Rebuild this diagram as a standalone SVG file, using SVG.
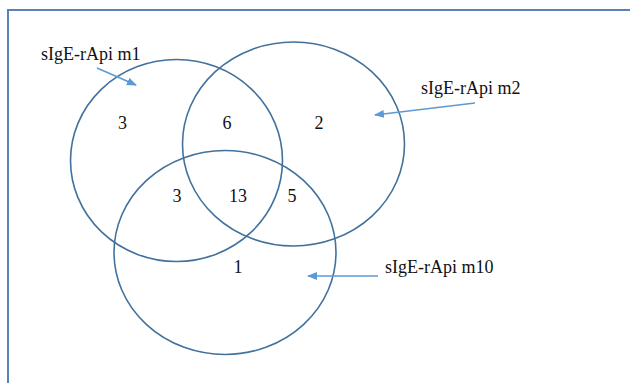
<svg xmlns="http://www.w3.org/2000/svg" width="630" height="383" viewBox="0 0 630 383">
<defs>
<style>
.frame{fill:none;stroke:#5a82b4;stroke-width:2}
.set{fill:none;stroke:#41719c;stroke-width:1.6}
.conn{stroke:#5b9bd5;stroke-width:1.6;fill:none}
.lbl{font-family:"Liberation Serif","Times New Roman",serif;font-size:18px;fill:#111}
.num{font-family:"Liberation Serif","Times New Roman",serif;font-size:18px;fill:#111;text-anchor:middle}
</style>
<marker id="ah" markerWidth="10" markerHeight="8" refX="9" refY="4" orient="auto" markerUnits="userSpaceOnUse">
<path d="M0,0 L10,4 L0,8 Z" fill="#5b9bd5"/>
</marker>
</defs>
<rect width="630" height="383" fill="#fff"/>
<rect class="frame" x="8" y="10" width="640" height="400"/>
<g id="m1">
<ellipse class="set" cx="176.5" cy="160.5" rx="106" ry="101"/>
<text class="lbl" x="41" y="60">sIgE-rApi m1</text>
</g>
<g id="m2">
<ellipse class="set" cx="293.5" cy="144" rx="111" ry="102"/>
<text class="lbl" x="421" y="94">sIgE-rApi m2</text>
</g>
<g id="m10">
<ellipse class="set" cx="225" cy="252.5" rx="111" ry="102"/>
<text class="lbl" x="385" y="273">sIgE-rApi m10</text>
</g>
<g id="counts">
<text class="num" x="122.5" y="129">3</text>
<text class="num" x="227" y="129">6</text>
<text class="num" x="319" y="129">2</text>
<text class="num" x="177" y="202">3</text>
<text class="num" x="238" y="202">13</text>
<text class="num" x="292" y="202">5</text>
<text class="num" x="238" y="273">1</text>
</g>
<g id="connectors">
<line class="conn" x1="97" y1="68" x2="136" y2="85" marker-end="url(#ah)"/>
<line class="conn" x1="475" y1="103" x2="375" y2="115" marker-end="url(#ah)"/>
<line class="conn" x1="378" y1="276" x2="308" y2="276" marker-end="url(#ah)"/>
</g>
</svg>
